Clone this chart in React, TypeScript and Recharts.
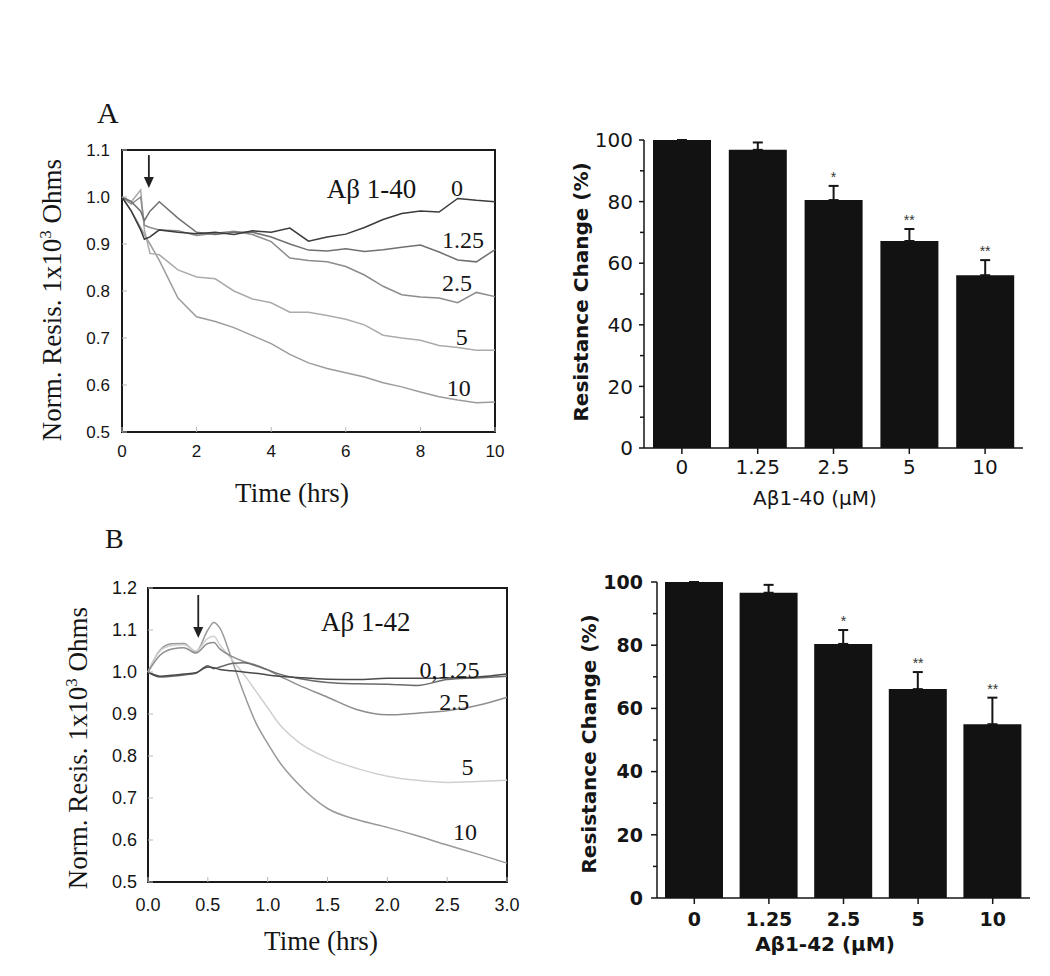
import React from "react";
import {
  LineChart,
  Line,
  XAxis,
  YAxis,
  ReferenceArea,
  ReferenceDot,
  ComposedChart,
  Bar,
  ErrorBar,
  Scatter,
} from "recharts";

const SERIF = '"Liberation Serif", "Times New Roman", serif';
const SANS = '"Liberation Sans", Arial, sans-serif';
const WIDE = '"DejaVu Sans", Verdana, sans-serif';

// ---- Panel A, time course (Aβ 1-40), hours
const TIME_A = [0, 0.25, 0.5, 0.6, 0.75, 1, 1.5, 2, 2.5, 3, 3.5, 4, 4.5, 5, 5.5, 6, 6.5, 7, 7.5, 8, 8.5, 9, 9.5, 10];
const A40_0 = [1.0, 0.97, 0.93, 0.91, 0.915, 0.93, 0.925, 0.922, 0.925, 0.92, 0.928, 0.925, 0.934, 0.906, 0.915, 0.921, 0.935, 0.952, 0.965, 0.97, 0.968, 0.997, 0.993, 0.99];
const A40_125 = [1.0, 0.99, 0.97, 0.95, 0.97, 0.99, 0.955, 0.925, 0.92, 0.925, 0.925, 0.915, 0.9, 0.887, 0.885, 0.89, 0.884, 0.888, 0.893, 0.898, 0.883, 0.866, 0.862, 0.888];
const A40_25 = [1.0, 0.985, 1.0, 0.94, 0.935, 0.93, 0.928, 0.918, 0.923, 0.927, 0.92, 0.905, 0.87, 0.865, 0.862, 0.852, 0.834, 0.81, 0.792, 0.787, 0.785, 0.775, 0.797, 0.788];
const A40_5 = [1.0, 0.99, 1.015, 0.93, 0.88, 0.877, 0.845, 0.83, 0.826, 0.8, 0.783, 0.775, 0.755, 0.755, 0.748, 0.74, 0.728, 0.706, 0.7, 0.695, 0.684, 0.68, 0.674, 0.674];
const A40_10 = [1.0, 0.97, 0.935, 0.92, 0.9, 0.865, 0.785, 0.745, 0.735, 0.722, 0.705, 0.688, 0.665, 0.647, 0.635, 0.626, 0.617, 0.605, 0.596, 0.585, 0.575, 0.568, 0.562, 0.564];
const TICKS_TA = [0, 2, 4, 6, 8, 10];
const TICKS_RA = [0.5, 0.6, 0.7, 0.8, 0.9, 1.0, 1.1];

// ---- Panel B, time course (Aβ 1-42), hours
const TIME_B = [0, 0.1, 0.2, 0.3, 0.4, 0.5, 0.55, 0.6, 0.7, 0.8, 0.9, 1.0, 1.1, 1.25, 1.5, 1.75, 2.0, 2.25, 2.5, 2.75, 3.0];
const A42_0 = [1.0, 0.99, 0.992, 0.995, 0.998, 1.012, 1.01, 1.006, 1.003, 1.0, 0.997, 0.993, 0.99, 0.987, 0.983, 0.982, 0.985, 0.985, 0.986, 0.988, 0.995];
const A42_125 = [1.0, 0.988, 0.99, 0.993, 0.997, 1.015, 1.008, 1.012, 1.02, 1.022, 1.015, 1.005, 0.995, 0.985, 0.975, 0.972, 0.971, 0.968, 0.982, 0.986, 0.99];
const A42_25 = [1.0, 1.04, 1.055, 1.058, 1.045, 1.068, 1.07, 1.055, 1.037, 1.025, 1.017, 1.005, 0.99, 0.97, 0.94, 0.91, 0.898, 0.902, 0.908, 0.92, 0.94];
const A42_5 = [1.0, 1.05, 1.063, 1.065, 1.05, 1.08, 1.085, 1.065, 1.03, 0.995, 0.955, 0.915, 0.875, 0.835, 0.795, 0.77, 0.752, 0.742, 0.737, 0.739, 0.742];
const A42_10 = [1.0, 1.052, 1.067, 1.068, 1.048, 1.1, 1.118, 1.105, 1.03, 0.95, 0.88, 0.83, 0.785, 0.735, 0.675, 0.648, 0.63, 0.61, 0.588, 0.567, 0.545];
const TICKS_TB = [0, 0.5, 1, 1.5, 2, 2.5, 3];
const TICKS_RB = [0.5, 0.6, 0.7, 0.8, 0.9, 1.0, 1.1, 1.2];

// ---- Bar panels, resistance change (%)
const DOSES = ["0", "1.25", "2.5", "5", "10"];
const A40_MEAN = [100, 96.8, 80.5, 67.2, 56.1];
const A40_SEM = [0, 2.4, 4.6, 3.9, 4.9];
const A42_MEAN = [100, 96.6, 80.4, 66.1, 55.0];
const A42_SEM = [0, 2.5, 4.4, 5.4, 8.4];
const SIG = ["", "", "*", "**", "**"];
const TICKS_PCT = [0, 10, 20, 30, 40, 50, 60, 70, 80, 90, 100];

const INK = "#151515";

type Series = { key: string; values: number[]; color: string };
type Note = { x: number; y: number; text: string; size: number };

const textShape = (text: string, size: number) => (p: any) =>
  (
    <text x={p.cx} y={p.cy} dy="0.35em" textAnchor="middle" fontFamily={SERIF} fontSize={size} fill={INK}>
      {text}
    </text>
  );

const arrowShape = (len: number) => (p: any) =>
  (
    <g>
      <line x1={p.cx} x2={p.cx} y1={p.cy - len} y2={p.cy - 8} stroke="#222" strokeWidth={1.8} />
      <path d={`M${p.cx - 5},${p.cy - 11} L${p.cx + 5},${p.cy - 11} L${p.cx},${p.cy} Z`} fill="#222" />
    </g>
  );

function TimeCourse(props: {
  width: number;
  height: number;
  margin: { top: number; right: number; bottom: number; left: number };
  times: number[];
  series: Series[];
  xTicks: number[];
  yTicks: number[];
  notes: Note[];
  arrow: { x: number; y: number; len: number };
  curve: "linear" | "monotone";
  tickFont: number;
  xTickMargin: number;
  yTickMargin: number;
}) {
  const { times, series, xTicks, yTicks } = props;
  const rows = times.map((t, i) => {
    const row: Record<string, number> = { t };
    series.forEach((s) => (row[s.key] = s.values[i]));
    return row;
  });
  const x0 = xTicks[0];
  const x1 = xTicks[xTicks.length - 1];
  const y0 = yTicks[0];
  const y1 = yTicks[yTicks.length - 1];
  const tickStyle = { fontSize: props.tickFont, fill: INK, fontFamily: SANS };

  return (
    <LineChart width={props.width} height={props.height} data={rows} margin={props.margin}>
      <XAxis
        dataKey="t"
        type="number"
        domain={[x0, x1]}
        ticks={xTicks}
        height={30}
        axisLine={false}
        tickSize={-5}
        tickMargin={props.xTickMargin}
        tickLine={{ stroke: "#b5b5b5" }}
        tick={tickStyle}
        tickFormatter={(v: number) => (x1 <= 3 ? v.toFixed(1) : String(v))}
      />
      <YAxis
        type="number"
        domain={[y0, y1]}
        ticks={yTicks}
        width={50}
        axisLine={false}
        tickSize={-5}
        tickMargin={props.yTickMargin}
        tickLine={{ stroke: "#b5b5b5" }}
        tick={tickStyle}
        tickFormatter={(v: number) => v.toFixed(1)}
      />
      <ReferenceArea x1={x0} x2={x1} y1={y0} y2={y1} fill="none" stroke="#1a1a1a" strokeWidth={2} />
      {series.map((s) => (
        <Line
          key={s.key}
          dataKey={s.key}
          type={props.curve}
          stroke={s.color}
          strokeWidth={1.5}
          dot={false}
          isAnimationActive={false}
        />
      ))}
      {props.notes.map((n) => (
        <ReferenceDot key={n.text} x={n.x} y={n.y} r={0} shape={textShape(n.text, n.size)} />
      ))}
      <ReferenceDot x={props.arrow.x} y={props.arrow.y} r={0} shape={arrowShape(props.arrow.len)} />
    </LineChart>
  );
}

function DoseBars(props: {
  width: number;
  height: number;
  margin: { top: number; right: number; bottom: number; left: number };
  means: number[];
  sems: number[];
  bold: boolean;
  yTickSize: number;
  yTickMargin: number;
  xTickMargin: number;
  fontSize: number;
}) {
  const rows = DOSES.map((d, i) => ({
    dose: d,
    value: props.means[i],
    err: [0, props.sems[i]],
    top: props.means[i] + props.sems[i],
    sig: SIG[i],
  }));
  const weight = props.bold ? 700 : 400;

  const yTick = (p: any) => {
    const v = p.payload.value;
    const major = v % 20 === 0;
    const axisX = p.x + props.yTickSize + props.yTickMargin;
    return (
      <g>
        <line x1={axisX - (major ? props.yTickSize : 4)} x2={axisX} y1={p.y} y2={p.y} stroke={INK} strokeWidth={1.5} />
        {major && (
          <text x={p.x} y={p.y} dy="0.36em" textAnchor="end" fontFamily={WIDE} fontWeight={weight} fontSize={props.fontSize} fill={INK}>
            {v}
          </text>
        )}
      </g>
    );
  };

  return (
    <ComposedChart width={props.width} height={props.height} data={rows} margin={props.margin}>
      <XAxis
        dataKey="dose"
        height={30}
        axisLine={{ stroke: INK, strokeWidth: 1.5 }}
        tickLine={{ stroke: INK, strokeWidth: 1.5 }}
        tickSize={6}
        tickMargin={props.xTickMargin}
        tick={{ fontSize: props.fontSize, fill: INK, fontFamily: WIDE, fontWeight: weight }}
      />
      <YAxis
        domain={[0, 100]}
        ticks={TICKS_PCT}
        width={60}
        axisLine={{ stroke: INK, strokeWidth: 1.5 }}
        tickLine={false}
        tickSize={props.yTickSize}
        tickMargin={props.yTickMargin}
        tick={yTick}
      />
      <Bar dataKey="value" fill="#121212" barSize={58} isAnimationActive={false}>
        <ErrorBar dataKey="err" direction="y" width={5} stroke={INK} strokeWidth={2} />
      </Bar>
      <Scatter
        dataKey="top"
        isAnimationActive={false}
        shape={(p: any) => (
          <text x={p.cx} y={p.cy - 4} textAnchor="middle" fontFamily={SANS} fontSize={14} fill="#333">
            {p.payload.sig}
          </text>
        )}
      />
    </ComposedChart>
  );
}

export default function App() {
  const seriesA: Series[] = [
    { key: "c10", values: A40_10, color: "#9c9c9c" },
    { key: "c5", values: A40_5, color: "#ababab" },
    { key: "c25", values: A40_25, color: "#8c8c8c" },
    { key: "c125", values: A40_125, color: "#707070" },
    { key: "c0", values: A40_0, color: "#3c3c3c" },
  ];
  const seriesB: Series[] = [
    { key: "c10", values: A42_10, color: "#9a9a9a" },
    { key: "c5", values: A42_5, color: "#d0d0d0" },
    { key: "c25", values: A42_25, color: "#8e8e8e" },
    { key: "c125", values: A42_125, color: "#6a6a6a" },
    { key: "c0", values: A42_0, color: "#4a4a4a" },
  ];
  const notesA: Note[] = [
    { x: 6.69, y: 1.019, text: "Aβ 1-40", size: 27 },
    { x: 8.98, y: 1.021, text: "0", size: 24 },
    { x: 9.14, y: 0.909, text: "1.25", size: 24 },
    { x: 8.98, y: 0.817, text: "2.5", size: 24 },
    { x: 9.11, y: 0.702, text: "5", size: 24 },
    { x: 9.03, y: 0.594, text: "10", size: 24 },
  ];
  const notesB: Note[] = [
    { x: 1.82, y: 1.119, text: "Aβ 1-42", size: 27 },
    { x: 2.52, y: 1.005, text: "0,1.25", size: 24 },
    { x: 2.56, y: 0.929, text: "2.5", size: 24 },
    { x: 2.67, y: 0.774, text: "5", size: 24 },
    { x: 2.65, y: 0.619, text: "10", size: 24 },
  ];

  return (
    <div style={{ position: "absolute", left: 0, top: 0, width: 1050, height: 976, background: "#fff", overflow: "hidden" }}>
      <div style={{ position: "absolute", left: 0, top: 100 }}>
        <TimeCourse
          width={520}
          height={400}
          margin={{ top: 50, right: 25, bottom: 38, left: 72 }}
          times={TIME_A}
          series={seriesA}
          xTicks={TICKS_TA}
          yTicks={TICKS_RA}
          notes={notesA}
          arrow={{ x: 0.72, y: 1.019, len: 33 }}
          curve="linear"
          tickFont={17}
          xTickMargin={18}
          yTickMargin={17}
        />
      </div>
      <div style={{ position: "absolute", left: 540, top: 100 }}>
        <DoseBars
          width={510}
          height={420}
          margin={{ top: 40, right: 27, bottom: 42, left: 44 }}
          means={A40_MEAN}
          sems={A40_SEM}
          bold={false}
          yTickSize={5}
          yTickMargin={6}
          xTickMargin={6}
          fontSize={20}
        />
      </div>
      <div style={{ position: "absolute", left: 0, top: 540 }}>
        <TimeCourse
          width={540}
          height={420}
          margin={{ top: 48, right: 33, bottom: 48, left: 98 }}
          times={TIME_B}
          series={seriesB}
          xTicks={TICKS_TB}
          yTicks={TICKS_RB}
          notes={notesB}
          arrow={{ x: 0.42, y: 1.081, len: 43 }}
          curve="monotone"
          tickFont={18}
          xTickMargin={21}
          yTickMargin={16}
        />
      </div>
      <div style={{ position: "absolute", left: 540, top: 540 }}>
        <DoseBars
          width={510}
          height={430}
          margin={{ top: 42, right: 20, bottom: 42, left: 57 }}
          means={A42_MEAN}
          sems={A42_SEM}
          bold={true}
          yTickSize={6}
          yTickMargin={8}
          xTickMargin={9}
          fontSize={19}
        />
      </div>

      {/* panel letters and axis titles */}
      <svg width={1050} height={976} style={{ position: "absolute", left: 0, top: 0, pointerEvents: "none" }}>
        <text x={97} y={123} fontFamily={SERIF} fontSize={30} fill={INK}>A</text>
        <text x={105} y={548} fontFamily={SERIF} fontSize={28} fill={INK}>B</text>

        <g transform="translate(61,300) rotate(-90)">
          <text textAnchor="middle" fontFamily={SERIF} fontSize={27} fill={INK}>
            Norm. Resis. 1x10<tspan dy={-10} fontSize={17}>3</tspan>
            <tspan dy={10}> Ohms</tspan>
          </text>
        </g>
        <text x={292} y={502} textAnchor="middle" fontFamily={SERIF} fontSize={27} fill={INK}>Time (hrs)</text>

        <g transform="translate(87,748) rotate(-90)">
          <text textAnchor="middle" fontFamily={SERIF} fontSize={27} fill={INK}>
            Norm. Resis. 1x10<tspan dy={-10} fontSize={17}>3</tspan>
            <tspan dy={10}> Ohms</tspan>
          </text>
        </g>
        <text x={321} y={950} textAnchor="middle" fontFamily={SERIF} fontSize={27} fill={INK}>Time (hrs)</text>

        <g transform="translate(588,292) rotate(-90)">
          <text textAnchor="middle" fontFamily={WIDE} fontWeight={700} fontSize={20} fill={INK}>Resistance Change (%)</text>
        </g>
        <text x={815} y={505} textAnchor="middle" fontFamily={WIDE} fontSize={20} fill={INK}>Aβ1-40 (μM)</text>

        <g transform="translate(596,744) rotate(-90)">
          <text textAnchor="middle" fontFamily={WIDE} fontWeight={700} fontSize={20} fill={INK}>Resistance Change (%)</text>
        </g>
        <text x={825} y={951} textAnchor="middle" fontFamily={WIDE} fontWeight={700} fontSize={20} fill={INK}>Aβ1-42 (μM)</text>
      </svg>
    </div>
  );
}
